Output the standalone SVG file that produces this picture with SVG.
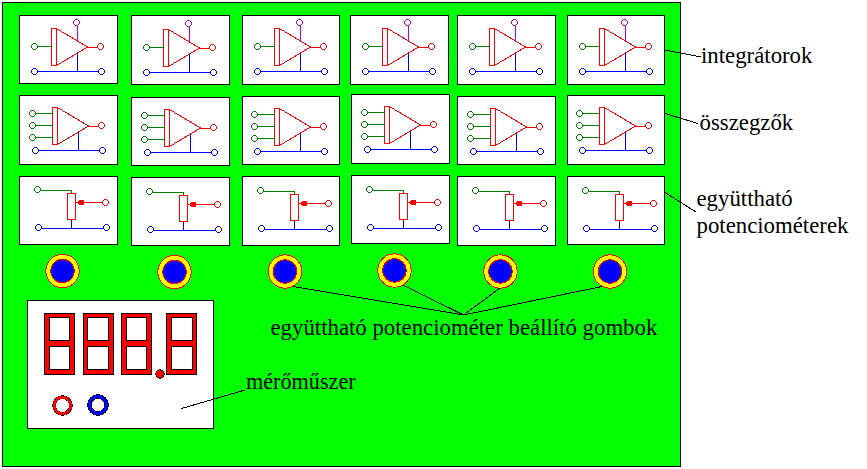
<svg xmlns="http://www.w3.org/2000/svg" width="867" height="469" viewBox="0 0 867 469">
<style>
.s{shape-rendering:crispEdges}
.tile{fill:#fff;stroke:#000;stroke-width:1}
.r{stroke:#f00;fill:none}.g{stroke:#008000;fill:none}.b{stroke:#00f;fill:none}.m{stroke:#c000c0;fill:none}
.rc{stroke:#f00;fill:#fff}.gc{stroke:#008000;fill:#fff}.bc{stroke:#00f;fill:#fff}.mc{stroke:#c000c0;fill:#fff}
.lead{stroke:#000;stroke-width:1;fill:none}
.t{font-family:"Liberation Serif","Times New Roman",serif;font-size:22.8px;fill:#000}
.kn1{fill:#ff0;stroke:#f00}.kn2{fill:#00f;stroke:#f00}
.dig{fill:#f00;stroke:#000}.hole{fill:#fff;stroke:#000}
</style>
<defs>
<path id="term" d="M-3 -1L-1 -3H1L3 -1V1L1 3H-1L-3 1Z"/>
<g id="amp-base">
<path class="r" d="M5 0L36 18.5L5 37"/>
<rect class="rc" x="0" y="0" width="5" height="37"/>
<path class="r" d="M36 18.5H46"/><use href="#term" class="rc" x="49" y="18"/>
<path class="b" d="M25.5 24V43M-15 43H47"/>
<use href="#term" class="bc" x="-17" y="43"/><use href="#term" class="bc" x="50" y="43"/>
</g>
<g id="integrator">
<use href="#amp-base"/>
<path class="m" d="M25.5 -3V13"/><use href="#term" class="mc" x="25" y="-6"/>
<path class="g" d="M-14 18H0"/><use href="#term" class="gc" x="-17" y="18"/>
</g>
<g id="summer">
<use href="#amp-base"/>
<path class="g" d="M-17 6H0M-17 18H0M-17 30H0"/>
<use href="#term" class="gc" x="-20" y="6"/><use href="#term" class="gc" x="-20" y="18"/><use href="#term" class="gc" x="-20" y="30"/>
</g>
<g id="pot">
<rect class="rc" x="0" y="0" width="8" height="26"/>
<path class="g" d="M-27 -3.5H4V0"/><use href="#term" class="gc" x="-30" y="-4"/>
<path class="b" d="M4 26V34.5M-26 34.5H36"/>
<use href="#term" class="bc" x="-29" y="34"/><use href="#term" class="bc" x="39" y="34"/>
<path class="r" d="M8 9H35"/><path d="M10 9L12 7H16V11H12Z" fill="#f00" stroke="#f00"/>
<use href="#term" class="rc" x="38" y="9"/>
</g>
</defs>
<rect width="867" height="469" fill="#fff"/>
<g class="s">
<rect id="board" x="2.5" y="2.5" width="678" height="464" fill="#0f0" stroke="#000"/>

<g id="int1"><rect class="tile" x="19.5" y="15.5" width="98" height="68"/><use href="#integrator" x="51.5" y="28.5"/></g>
<g id="int2"><rect class="tile" x="131.5" y="15.5" width="98" height="69"/><use href="#integrator" x="163.5" y="29.5"/></g>
<g id="int3"><rect class="tile" x="242.5" y="15.5" width="97" height="69"/><use href="#integrator" x="274.5" y="28.5"/></g>
<g id="int4"><rect class="tile" x="350.5" y="15.5" width="98" height="69"/><use href="#integrator" x="382.5" y="28.5"/></g>
<g id="int5"><rect class="tile" x="457.5" y="15.5" width="98" height="69"/><use href="#integrator" x="489.5" y="28.5"/></g>
<g id="int6"><rect class="tile" x="567.5" y="15.5" width="97" height="69"/><use href="#integrator" x="599.5" y="28.5"/></g>

<g id="sum1"><rect class="tile" x="19.5" y="95.5" width="98" height="69"/><use href="#summer" x="52.5" y="107.5"/></g>
<g id="sum2"><rect class="tile" x="131.5" y="97.5" width="98" height="68"/><use href="#summer" x="164.5" y="109.5"/></g>
<g id="sum3"><rect class="tile" x="242.5" y="96.5" width="97" height="68"/><use href="#summer" x="274.5" y="108.5"/></g>
<g id="sum4"><rect class="tile" x="351.5" y="94.5" width="98" height="69"/><use href="#summer" x="384.5" y="106.5"/></g>
<g id="sum5"><rect class="tile" x="457.5" y="96.5" width="98" height="68"/><use href="#summer" x="490.5" y="108.5"/></g>
<g id="sum6"><rect class="tile" x="567.5" y="95.5" width="97" height="69"/><use href="#summer" x="599.5" y="107.5"/></g>

<g id="pot1"><rect class="tile" x="19.5" y="176.5" width="98" height="68"/><use href="#pot" x="67.5" y="193.5"/></g>
<g id="pot2"><rect class="tile" x="131.5" y="177.5" width="98" height="68"/><use href="#pot" x="179.5" y="195.5"/></g>
<g id="pot3"><rect class="tile" x="242.5" y="176.5" width="97" height="69"/><use href="#pot" x="290.5" y="194.5"/></g>
<g id="pot4"><rect class="tile" x="351.5" y="175.5" width="98" height="68"/><use href="#pot" x="399.5" y="193.5"/></g>
<g id="pot5"><rect class="tile" x="457.5" y="176.5" width="98" height="69"/><use href="#pot" x="505.5" y="194.5"/></g>
<g id="pot6"><rect class="tile" x="567.5" y="176.5" width="97" height="68"/><use href="#pot" x="615.5" y="194.5"/></g>

<g id="knob1"><circle class="kn1" cx="62.5" cy="271" r="16.7"/><circle class="kn2" cx="62.5" cy="271" r="11.7"/></g>
<g id="knob2"><circle class="kn1" cx="174.5" cy="272" r="16.7"/><circle class="kn2" cx="174.5" cy="272" r="11.7"/></g>
<g id="knob3"><circle class="kn1" cx="285" cy="271.5" r="16.7"/><circle class="kn2" cx="285" cy="271.5" r="11.7"/></g>
<g id="knob4"><circle class="kn1" cx="394.5" cy="270.5" r="16.7"/><circle class="kn2" cx="394.5" cy="270.5" r="11.7"/></g>
<g id="knob5"><circle class="kn1" cx="500.5" cy="271.5" r="16.7"/><circle class="kn2" cx="500.5" cy="271.5" r="11.7"/></g>
<g id="knob6"><circle class="kn1" cx="610" cy="271.5" r="16.7"/><circle class="kn2" cx="610" cy="271.5" r="11.7"/></g>

<g id="meter">
<rect class="tile" x="27.5" y="300.5" width="186" height="128"/>
<g id="digit1"><rect class="dig" x="44.5" y="313.5" width="30" height="61"/><rect class="hole" x="49.5" y="317.5" width="20" height="23"/><rect class="hole" x="49.5" y="346.5" width="20" height="23"/></g>
<g id="digit2"><rect class="dig" x="83.5" y="313.5" width="30" height="61"/><rect class="hole" x="87.5" y="317.5" width="21" height="23"/><rect class="hole" x="87.5" y="346.5" width="21" height="23"/></g>
<g id="digit3"><rect class="dig" x="121.5" y="313.5" width="30" height="61"/><rect class="hole" x="126.5" y="317.5" width="20" height="23"/><rect class="hole" x="126.5" y="346.5" width="20" height="23"/></g>
<g id="digit4"><rect class="dig" x="166.5" y="313.5" width="30" height="61"/><rect class="hole" x="171.5" y="317.5" width="21" height="23"/><rect class="hole" x="171.5" y="346.5" width="21" height="23"/></g>
<circle cx="160" cy="374" r="4.2" fill="#f00" stroke="#000"/>
<circle cx="62.5" cy="405.5" r="10.3" fill="#000"/><circle cx="62.5" cy="405.5" r="9.6" fill="#f00"/><circle cx="62.5" cy="405.5" r="7" fill="#000"/><circle cx="62.5" cy="405.5" r="6.5" fill="#fff"/>
<circle cx="98" cy="405" r="10.7" fill="#000"/><circle cx="98" cy="405" r="10" fill="#00f"/><circle cx="98" cy="405" r="6.8" fill="#000"/><circle cx="98" cy="405" r="6.3" fill="#fff"/>
</g>
</g>
<g id="connectors" class="s">
<path class="lead" d="M665 50L701 57"/>
<path class="lead" d="M665 113.5L698 123.5"/>
<path class="lead" d="M665 192.5L696 212"/>
<path class="lead" d="M293 286.5L463.5 315"/>
<path class="lead" d="M403 285L463.5 315"/>
<path class="lead" d="M500 288L463.5 315"/>
<path class="lead" d="M602 286.5L463.5 315"/>
<path class="lead" d="M181.5 408.5L245 390"/>
</g>
<g id="labels">
<text class="t" x="701" y="63">integrátorok</text>
<text class="t" x="699.5" y="129.5">összegzők</text>
<text class="t" x="696.5" y="206">együttható</text>
<text class="t" x="696.5" y="232.5">potenciométerek</text>
<text class="t" x="270.5" y="335">együttható potenciométer beállító gombok</text>
<text class="t" x="246" y="389" style="font-size:22.2px">mérőműszer</text>
</g>
</svg>
